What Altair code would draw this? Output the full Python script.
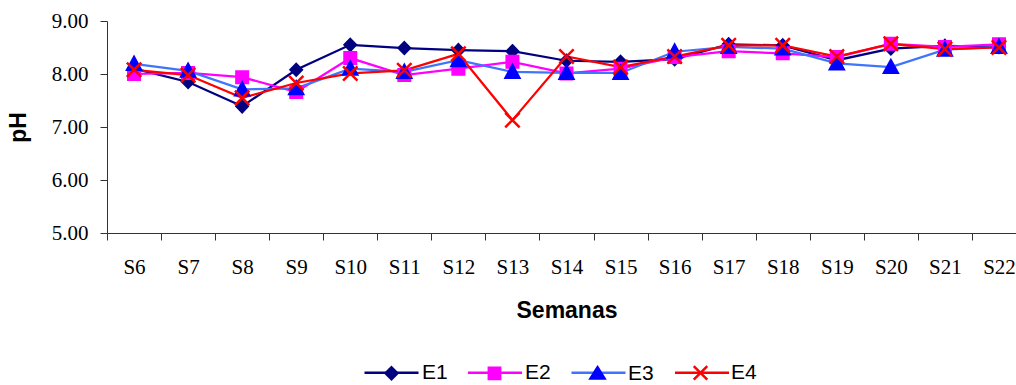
import altair as alt
import pandas as pd

# Weekly pH readings for four sampling points
semanas = ["S6", "S7", "S8", "S9", "S10", "S11", "S12", "S13", "S14",
           "S15", "S16", "S17", "S18", "S19", "S20", "S21", "S22"]
e1 = [8.10, 7.85, 7.39, 8.08, 8.55, 8.49, 8.45, 8.43, 8.25, 8.23, 8.28, 8.56, 8.54, 8.26, 8.48, 8.53, 8.51]
e2 = [8.00, 8.02, 7.94, 7.66, 8.30, 7.98, 8.10, 8.23, 8.01, 8.10, 8.32, 8.43, 8.39, 8.32, 8.57, 8.51, 8.56]
e3 = [8.19, 8.06, 7.71, 7.73, 8.10, 8.04, 8.26, 8.04, 8.02, 8.02, 8.42, 8.51, 8.48, 8.20, 8.13, 8.46, 8.51]
e4 = [8.08, 7.98, 7.55, 7.83, 8.01, 8.07, 8.38, 7.13, 8.33, 8.13, 8.33, 8.54, 8.54, 8.33, 8.57, 8.47, 8.50]

series = ["E1", "E2", "E3", "E4"]
line_colors = ["#000080", "#FF00FF", "#3F74FF", "#FF0000"]
marker_colors = ["#000080", "#FF00FF", "#0000FF", "#FF0000"]

# marker outlines inside the unit box [-1, 1]
plot_shapes = [
    "M0,-0.72L0.7,0L0,0.72L-0.7,0Z",
    "M-0.72,-0.72H0.72V0.72H-0.72Z",
    "M0,-0.85L0.85,0.72H-0.85Z",
    "M-0.9,-0.9L0.9,0.9M-0.9,0.9L0.9,-0.9",
]
# the same markers, drawn small inside the wide legend symbol box
legend_shapes = [
    "M0,-0.22L0.22,0L0,0.22L-0.22,0Z",
    "M-0.21,-0.21H0.21V0.21H-0.21Z",
    "M0,-0.24L0.26,0.18H-0.26Z",
    "M-0.25,-0.25L0.25,0.25M-0.25,0.25L0.25,-0.25",
]

rows = []
for name, vals in zip(series, [e1, e2, e3, e4]):
    for s, v in zip(semanas, vals):
        rows.append({"serie": name, "semana": s, "ph": v})
df = pd.DataFrame(rows)

PLOT_W = 909
FULL_W = 919
PLOT_H = 212

x_enc = alt.X(
    "semana:N",
    sort=semanas,
    scale=alt.Scale(type="band", range=[0, FULL_W], paddingInner=0, paddingOuter=0),
    axis=alt.Axis(
        title="Semanas",
        tickBand="extent",
        labelAngle=0,
        labelFont="Liberation Serif",
        labelFontSize=21,
        labelColor="#000000",
        labelPadding=16,
        tickSize=7,
        tickColor="#333333",
        domainColor="#333333",
        titleFont="Liberation Sans",
        titleFontSize=23,
        titleFontWeight="bold",
        titleColor="#000000",
        titlePadding=22,
        grid=False,
    ),
)
y_enc = alt.Y(
    "ph:Q",
    scale=alt.Scale(domain=[5, 9], nice=False, zero=False),
    axis=alt.Axis(
        title="pH",
        values=[5, 6, 7, 8, 9],
        format=".2f",
        labelFont="Liberation Serif",
        labelFontSize=21,
        labelColor="#000000",
        labelPadding=12,
        tickSize=7,
        tickColor="#333333",
        domainColor="#333333",
        titleFont="Liberation Sans",
        titleFontSize=23,
        titleFontWeight="bold",
        titleColor="#000000",
        titlePadding=21,
        grid=False,
    ),
)

LEG_X = 256
LEG_Y = 323

common_legend = dict(
    orient="none",
    legendX=LEG_X,
    legendY=LEG_Y,
    direction="horizontal",
    title=None,
    padding=0,
    symbolSize=2916,
    symbolStrokeWidth=2.5,
    labelFont="Liberation Sans",
    labelFontSize=21,
    labelColor="#000000",
)

base = alt.Chart(df).encode(x=x_enc, y=y_enc)

# line part of each legend entry; its labels come from the marker legend
lines = base.mark_line(strokeWidth=2.25).encode(
    color=alt.Color(
        "serie:N",
        scale=alt.Scale(range=line_colors),
        legend=alt.Legend(symbolType="stroke", labelExpr="''", labelOffset=4,
                          columnPadding=38.5, **common_legend),
    ),
    detail="serie:N",
)

markers = base.mark_point(filled=True, size=256, strokeWidth=2.5, opacity=1).encode(
    shape=alt.Shape("serie:N", scale=alt.Scale(domain=series, range=plot_shapes), legend=None),
    fill=alt.Fill("serie:N", scale=alt.Scale(domain=series, range=marker_colors), legend=None),
    stroke=alt.Stroke("serie:N", scale=alt.Scale(domain=series, range=marker_colors), legend=None),
)

marker_legend = alt.Legend(columnPadding=18, labelOffset=2, **common_legend)
legend_markers = alt.Chart(df).transform_filter("false").mark_point(
    filled=True, strokeWidth=2.5, opacity=1
).encode(
    shape=alt.Shape("serie:N", scale=alt.Scale(domain=series, range=legend_shapes), legend=marker_legend),
    fill=alt.Fill("serie:N", scale=alt.Scale(domain=series, range=marker_colors), legend=marker_legend),
    stroke=alt.Stroke("serie:N", scale=alt.Scale(domain=series, range=marker_colors), legend=marker_legend),
)

chart = (
    alt.layer(lines, markers, legend_markers)
    .resolve_scale(shape="independent", fill="independent", stroke="independent")
    .properties(
        width=PLOT_W,
        height=PLOT_H,
        autosize=alt.AutoSizeParams(type="none"),
        padding={"left": 107, "top": 21, "right": 0, "bottom": 152},
        background="#FFFFFF",
    )
    .configure_view(strokeWidth=0)
)

chart.save("out.html", embed_options={"renderer": "svg", "actions": False})
